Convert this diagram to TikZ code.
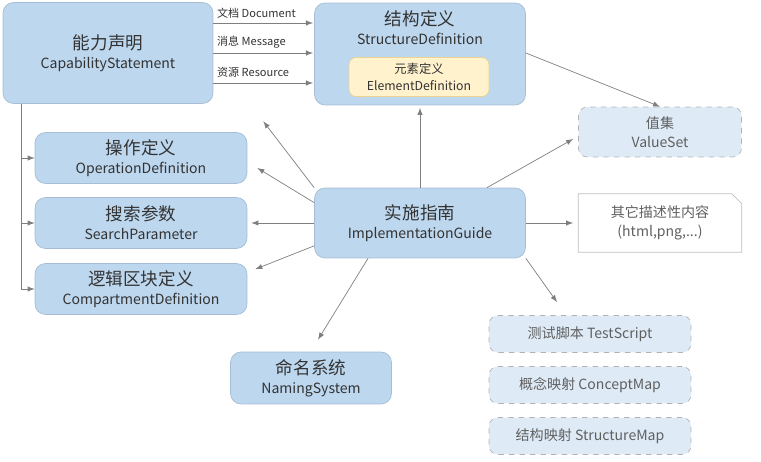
\documentclass[tikz,border=0pt]{standalone}
\usepackage{fontspec}
\setmainfont{Noto Sans CJK SC}
\usepackage{tikz}
\usepackage{xcolor}
\definecolor{boxblue}{HTML}{BDD7EE}
\definecolor{boxline}{HTML}{A6BDD3}
\definecolor{lightblue}{HTML}{DEEBF7}
\definecolor{elemfill}{HTML}{FFF2CC}
\definecolor{elemline}{HTML}{EBD590}
\definecolor{txt}{HTML}{333333}
\definecolor{arr}{HTML}{7F7F7F}
\tikzset{
  box/.style={draw=boxline, fill=boxblue, rounded corners=6pt, align=center, text=txt, font=\fontsize{8}{11}\selectfont, inner sep=0pt},
  dbox/.style={draw=gray!60, dashed, fill=lightblue, rounded corners=5pt, align=center, text=gray!75!black, font=\fontsize{8}{11}\selectfont, inner sep=0pt},
  big/.style={font=\fontsize{10}{12}\selectfont},
  link/.style={-latex, arr, thin},
  lbl/.style={font=\fontsize{6.3}{8}\selectfont, text=txt, anchor=south west, inner sep=1pt}
}
\begin{document}
\begin{tikzpicture}[x=0.02cm, y=-0.02cm]
            \useasboundingbox (0,0) rectangle (761,462);
            % Capability statement (left top)
            \node[box, minimum width=4.2cm, minimum height=2.02cm] (cs) at (108, 53) {{\large\fontsize{10}{12}\selectfont 能力声明}\\CapabilityStatement};
            
            % Structure definition with element definition inside
            \node[box, minimum width=4.22cm, minimum height=2.04cm, text depth=1.05cm] (sd) at (420, 54) {{\fontsize{10}{12}\selectfont 结构定义}\\StructureDefinition};
            \node[box, draw=elemline, fill=elemfill, rounded corners=4pt, minimum width=2.8cm, minimum height=0.78cm, font=\fontsize{7}{10}\selectfont] (ed) at (419, 77) {元素定义\\ElementDefinition};
            
            % Three kinds of structure
            \foreach \y/\t in {23/文档 Document, 53/消息 Message, 83/资源 Resource} {
                \coordinate (s\y) at (213, \y);
                \coordinate (e\y) at (313, \y);
                \draw[link] (s\y) -- (e\y);
                \node[lbl] at (215, \y-3) {\t};
            }
            
            % Definitions below the capability statement
            \node[box, minimum width=4.24cm, minimum height=1.02cm] (od) at (141, 158) {{\fontsize{10}{12}\selectfont 操作定义}\\OperationDefinition};
            \node[box, minimum width=4.24cm, minimum height=1.02cm] (sp) at (141, 223) {{\fontsize{10}{12}\selectfont 搜索参数}\\SearchParameter};
            \node[box, minimum width=4.24cm, minimum height=1.02cm] (cd) at (141, 289) {{\fontsize{10}{12}\selectfont 逻辑区块定义}\\CompartmentDefinition};
            
            % Tree from capability statement
            \coordinate (t0) at (21, 104);
            \coordinate (t1) at (21, 289);
            \draw[arr] (t0) -- (t1);
            \draw[link] (21, 158) -- (od.west);
            \draw[link] (21, 223) -- (sp.west);
            \draw[link] (t1) -- (cd.west);
            
            % Implementation guide (centre)
            \node[box, minimum width=4.22cm, minimum height=1.4cm] (ig) at (420, 223) {{\fontsize{10}{12}\selectfont 实施指南}\\ImplementationGuide};
            
            % Value set and other content
            \node[dbox, minimum width=3.26cm, minimum height=1cm] (vs) at (660, 132) {值集\\ValueSet};
            \node[align=center, text=gray!75!black, font=\fontsize{8}{11}\selectfont, minimum width=3.26cm, minimum height=1.16cm, inner sep=0pt] (oc) at (660, 223) {其它描述性内容\\(html,png,...)};
            \draw[gray!50] (oc.north west) -- ([xshift=-0.2cm]oc.north east) -- ([yshift=-0.2cm]oc.north east) -- (oc.south east) -- (oc.south west) -- cycle;
            
            % Naming system
            \node[box, minimum width=3.22cm, minimum height=1.04cm] (ns) at (311, 378) {{\fontsize{10}{12}\selectfont 命名系统}\\NamingSystem};
            
            % Maps and scripts
            \node[dbox, minimum width=4.04cm, minimum height=0.74cm] (ts) at (590, 334) {测试脚本 TestScript};
            \node[dbox, minimum width=4.04cm, minimum height=0.74cm] (cm) at (590, 385) {概念映射 ConceptMap};
            \node[dbox, minimum width=4.04cm, minimum height=0.74cm] (sm) at (590, 436) {结构映射 StructureMap};
            
            % Arrows from the implementation guide
            \draw[link] (ig.north) -- ([yshift=-0.05cm]sd.south);
            \draw[link] (ig.north west) -- ([shift={(1cm,-0.35cm)}]cs.south east);
            \draw[link] ([yshift=-0.3cm]ig.north west) -- ([shift={(0.2cm,-0.2cm)}]od.east);
            \draw[link] (ig.west) -- ([xshift=0.08cm]sp.east);
            \draw[link] ([yshift=0.25cm]ig.south west) -- ([shift={(0.16cm,-0.12cm)}]cd.north east);
            \draw[link] ([xshift=-1.04cm]ig.south) -- ([xshift=0.14cm,yshift=0.24cm]ns.north);
            \draw[link] ([xshift=1.34cm]ig.north) -- ([xshift=-0.1cm,yshift=-0.14cm]vs.west);
            \draw[link] (ig.east) -- ([xshift=-0.1cm]oc.west);
            \draw[link] (ig.south east) -- ([shift={(-0.66cm,0.26cm)}]ts.north);
            
            % Structure definition uses value sets
            \draw[link] ([yshift=0.02cm]sd.east) -- (vs.north);
        \end{tikzpicture}
\end{document}
